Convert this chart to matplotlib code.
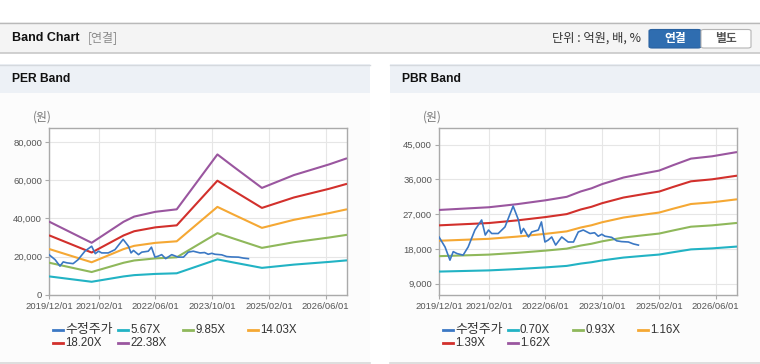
import matplotlib
matplotlib.use("Agg")
import matplotlib.pyplot as plt
import pandas as pd
from matplotlib.patches import Rectangle, FancyBboxPatch
from matplotlib.lines import Line2D

plt.rcParams['font.family'] = ['Liberation Sans', 'Noto Sans CJK KR', 'DejaVu Sans']

# ---------------- data ----------------
price_dates = ['2019-12-01', '2020-01-22', '2020-03-04', '2020-04-01', '2020-05-04', '2020-06-25',
               '2020-08-07', '2020-10-04', '2020-12-01', '2021-01-01', '2021-01-29', '2021-02-25',
               '2021-04-22', '2021-06-19', '2021-08-28', '2021-10-13', '2021-11-04', '2021-11-25',
               '2022-01-07', '2022-02-04', '2022-04-01', '2022-04-28', '2022-05-28', '2022-06-25',
               '2022-07-25', '2022-08-28', '2022-10-19', '2022-12-13', '2023-01-28', '2023-03-10',
               '2023-04-22', '2023-06-19', '2023-07-28', '2023-08-28', '2023-09-28', '2023-10-25',
               '2023-12-22', '2024-02-03', '2024-03-16', '2024-05-13', '2024-06-25', '2024-08-07']
price_values = [21100, 18500, 15100, 17300, 16800, 16400,
                18500, 22900, 25500, 21600, 22900, 22000,
                22000, 23700, 29100, 25500, 22000, 23300,
                21100, 22400, 22900, 25000, 19800, 20300,
                21100, 19000, 21100, 19800, 19800, 22400,
                22900, 22000, 22200, 21300, 21800, 21300,
                21000, 20100, 19900, 19800, 19300, 19000]

per_dates = ['2019-12-01', '2020-12-01', '2021-09-01', '2021-12-01', '2022-06-01', '2022-12-01',
             '2023-11-15', '2024-04-01', '2024-12-01', '2025-09-01', '2026-07-01', '2026-12-01']
per_567 = [9731, 6918, 9705, 10389, 11023, 11352, 18625, 17003, 14190, 15888, 17307, 18118]
per_985 = [16900, 12015, 16856, 18044, 19144, 19716, 32347, 29531, 24646, 27594, 30059, 31467]
per_1403 = [24073, 17114, 24010, 25703, 27270, 28085, 46077, 42065, 35106, 39307, 42817, 44823]
per_1820 = [31227, 22200, 31146, 33341, 35374, 36431, 59770, 54566, 45539, 50988, 55542, 58144]
per_2238 = [38400, 27300, 38300, 41000, 43500, 44800, 73500, 67100, 56000, 62700, 68300, 71500]

pbr_dates = ['2019-12-01', '2021-02-01', '2021-10-01', '2022-06-01', '2022-12-01', '2023-04-01',
             '2023-07-01', '2023-10-01', '2024-04-01', '2024-10-01', '2025-02-01', '2025-06-01',
             '2025-11-01', '2026-05-01', '2026-12-01']
pbr_070 = [12139, 12442, 12787, 13219, 13608, 14213, 14558, 15034, 15768, 16243, 16546, 17150, 17885, 18144, 18619]
pbr_093 = [16129, 16531, 16990, 17564, 18081, 18885, 19344, 19975, 20951, 21582, 21984, 22788, 23764, 24108, 24739]
pbr_116 = [20120, 20621, 21194, 21910, 22554, 23556, 24129, 24917, 26134, 26922, 27423, 28425, 29642, 30072, 30860]
pbr_139 = [24110, 24710, 25397, 26255, 27027, 28228, 28915, 29858, 31317, 32261, 32861, 34063, 35521, 36036, 36980]
pbr_162 = [28100, 28800, 29600, 30600, 31500, 32900, 33700, 34800, 36500, 37600, 38300, 39700, 41400, 42000, 43100]

per_labels = ['수정주가', '5.67X', '9.85X', '14.03X', '18.20X', '22.38X']
pbr_labels = ['수정주가', '0.70X', '0.93X', '1.16X', '1.39X', '1.62X']

x_tick_dates = ['2019-12-01', '2021-02-01', '2022-06-01', '2023-10-01', '2025-02-01', '2026-06-01']
x_tick_labels = ['2019/12/01', '2021/02/01', '2022/06/01', '2023/10/01', '2025/02/01', '2026/06/01']
per_yticks = [0, 20000, 40000, 60000, 80000]
pbr_yticks = [9000, 18000, 27000, 36000, 45000]

colors = ['#3b78c4', '#22b3c4', '#8fb85b', '#f5a834', '#d2302c', '#9a569f']

# ---------------- figure ----------------
W, H = 760, 364
fig = plt.figure(figsize=(W / 100, H / 100), dpi=100)
fig.patch.set_facecolor('white')


def rect(x, y, w, h, fc, ec='none', lw=0, z=0):
    r = Rectangle((x / W, 1 - (y + h) / H), w / W, h / H, transform=fig.transFigure,
                  facecolor=fc, edgecolor=ec, linewidth=lw, zorder=z)
    fig.add_artist(r)


def hline(x0, x1, y, c, lw=1.0):
    fig.add_artist(Line2D([x0 / W, x1 / W], [1 - y / H, 1 - y / H], transform=fig.transFigure,
                          color=c, linewidth=lw))


def text(x, y, s, **kw):
    fig.text(x / W, 1 - y / H, s, transform=fig.transFigure, **kw)


# header
rect(0, 22, 760, 31, '#f4f4f4')
hline(0, 760, 22.5, '#b9b9b9', 1.0)
hline(0, 760, 53, '#c8c8c8', 1.2)
text(12, 38, 'Band Chart', fontsize=9.0, fontweight='bold', color='#111111',
     family=['Liberation Sans', 'Noto Sans CJK KR'], va='center')
text(88, 38, '[연결]', fontsize=8.6, color='#8a8a8a', family=['Noto Sans CJK KR'], va='center')
text(552, 38.5, '단위 : 억원, 배, %', fontsize=8.8, color='#333333',
     family=['Noto Sans CJK KR'], va='center')
btn1 = FancyBboxPatch((649 / W, 1 - 48 / H), 52 / W, 18.5 / H, boxstyle='round,pad=0,rounding_size=0.004',
                      transform=fig.transFigure, facecolor='#2f6db0', edgecolor='#2a62a0', linewidth=0.8)
fig.add_artist(btn1)
btn2 = FancyBboxPatch((701 / W, 1 - 48 / H), 50 / W, 18.5 / H, boxstyle='round,pad=0,rounding_size=0.004',
                      transform=fig.transFigure, facecolor='#ffffff', edgecolor='#b5b5b5', linewidth=0.8)
fig.add_artist(btn2)
text(675, 38.5, '연결', fontsize=8.5, fontweight='bold', color='white',
     family=['Noto Sans CJK KR'], ha='center', va='center')
text(726, 38.5, '별도', fontsize=8.5, fontweight='bold', color='#555555',
     family=['Noto Sans CJK KR'], ha='center', va='center')

# panels
for px0, title in [(0, 'PER Band'), (390, 'PBR Band')]:
    rect(px0, 64, 370, 299, '#fcfcfc')
    rect(px0, 64, 370, 29, '#edf1f6')
    hline(px0, px0 + 370, 64.5, '#d5d9de', 1.0)
    hline(px0, px0 + 370, 362.5, '#d8d8d8', 1.2)
    text(px0 + 12, 79, title, fontsize=8.7, fontweight='bold', color='#111111',
         family=['Liberation Sans', 'Noto Sans CJK KR'], va='center')


def make_axes(x0, series_dates, series, labels, yticks, ylim, legend_x):
    ax = fig.add_axes([x0 / W, 1 - 295 / H, 298 / W, 167 / H])
    ax.set_facecolor('white')
    # bands first, price on top
    d = pd.to_datetime(series_dates)
    for vals, c in zip(series, colors[1:]):
        ax.plot(d, vals, color=c, linewidth=1.5, solid_capstyle='butt', zorder=3)
    ax.plot(pd.to_datetime(price_dates), price_values, color=colors[0], linewidth=1.2, zorder=4)
    ax.set_xlim(pd.Timestamp('2019-12-01'), pd.Timestamp('2026-12-01'))
    ax.set_ylim(*ylim)
    ax.set_xticks(pd.to_datetime(x_tick_dates))
    ax.set_xticklabels(x_tick_labels)
    ax.set_yticks(yticks)
    ax.set_yticklabels([f'{v:,}' for v in yticks])
    ax.grid(True, color='#e6e6e6', linewidth=0.8, zorder=0)
    ax.set_axisbelow(True)
    for s in ax.spines.values():
        s.set_color('#aaaaaa')
        s.set_linewidth(1.0)
    ax.tick_params(axis='both', colors='#aaaaaa', length=3, width=0.8, labelcolor='#555555',
                   labelsize=6.8, pad=2)
    # axis unit label
    text(x0 - 16, 117, '(원)', fontsize=8.5, color='#777777', family=['Noto Sans CJK KR'],
         ha='left', va='center')
    # legend
    pos = [(0, 330), (1, 330), (2, 330), (3, 330), (0, 343), (1, 343)]
    for i, (lab, c) in enumerate(zip(labels, colors)):
        col, yy = pos[i]
        lx = legend_x + col * 65
        fig.add_artist(Line2D([lx / W, (lx + 10) / W], [1 - yy / H, 1 - yy / H],
                              transform=fig.transFigure, color=c, linewidth=2))
        fs = 9.3 if not lab.isascii() else 8.3
        text(lx + 12, yy, lab, fontsize=fs, color='#333333', va='center',
             family=['Liberation Sans', 'Noto Sans CJK KR'])
    return ax


make_axes(49, per_dates, [per_567, per_985, per_1403, per_1820, per_2238], per_labels,
          per_yticks, (0, 87320), 53)
make_axes(439, pbr_dates, [pbr_070, pbr_093, pbr_116, pbr_139, pbr_162], pbr_labels,
          pbr_yticks, (6070, 49330), 443)

fig.savefig('out.png', dpi=100, facecolor=fig.get_facecolor())
